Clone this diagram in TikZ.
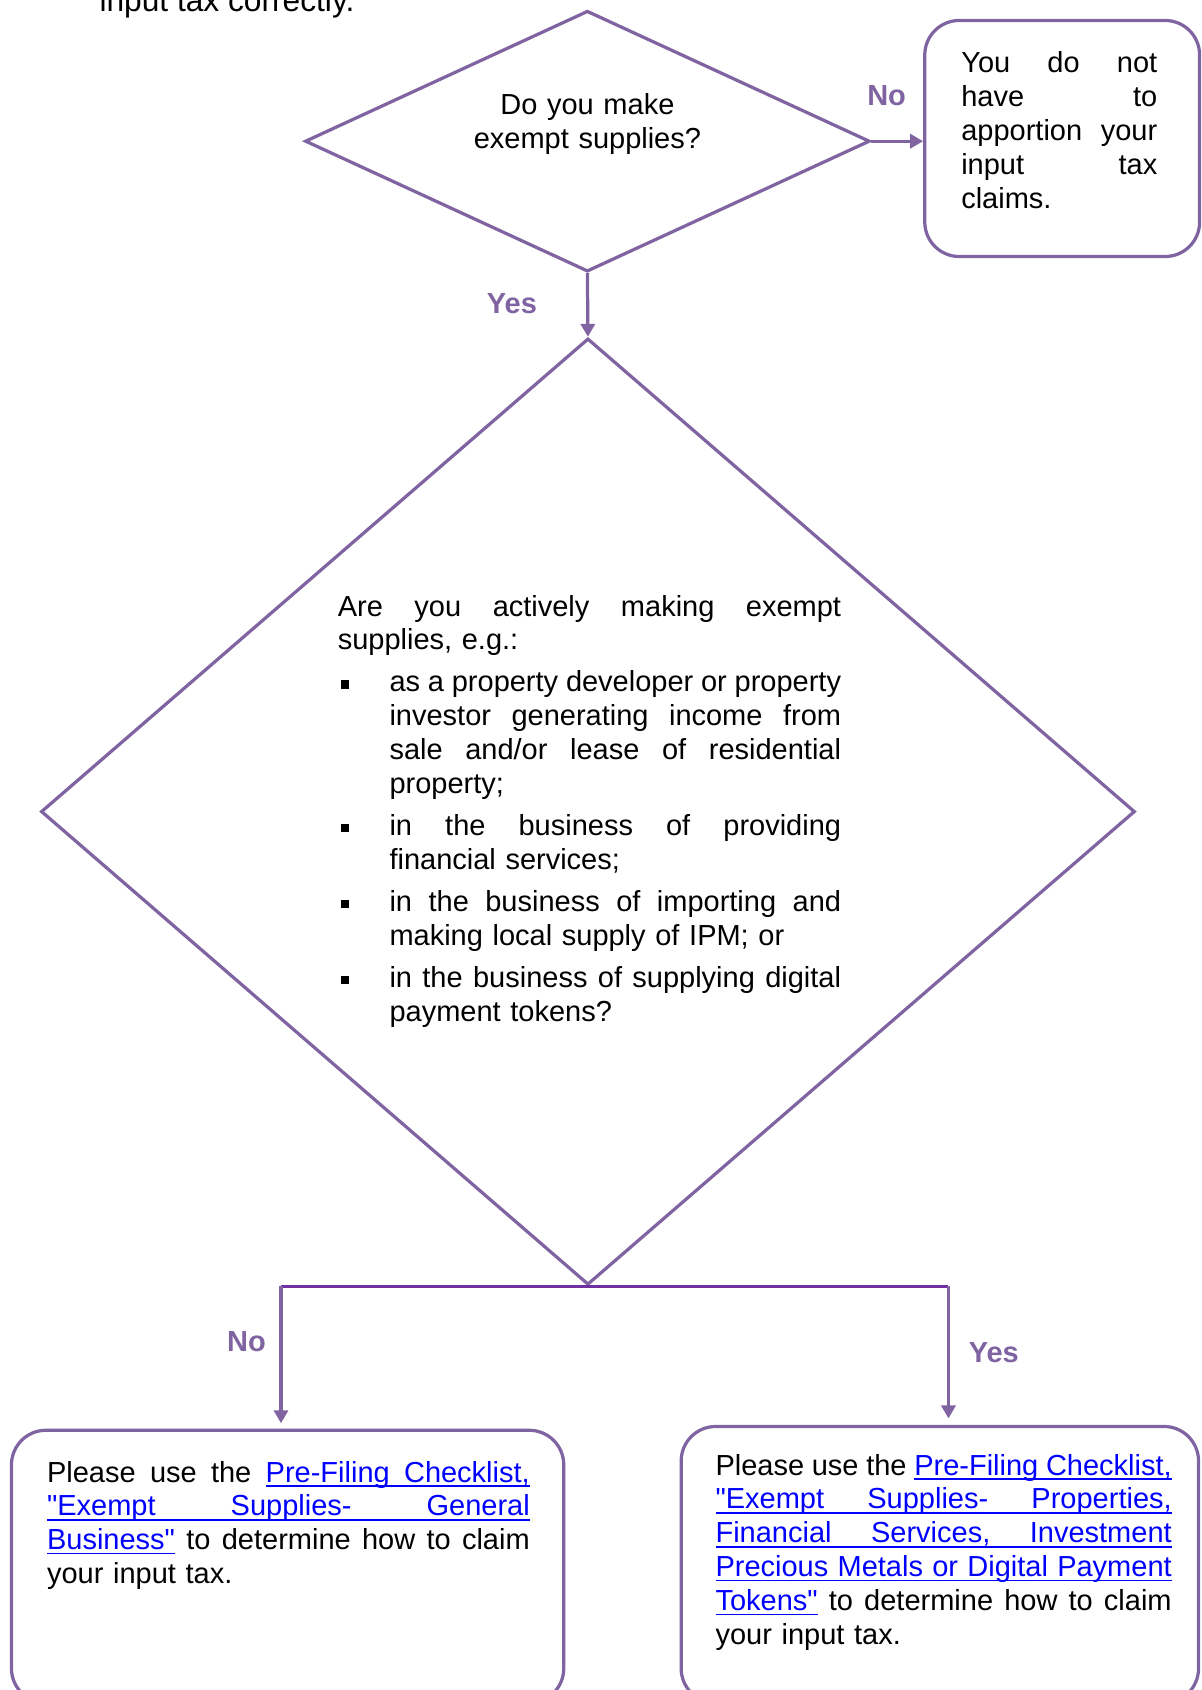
\documentclass[tikz,border=0pt]{standalone}
\usepackage{fontspec}
\setmainfont{Liberation Sans}[Ligatures=TeXOff]
\usetikzlibrary{shapes.geometric,arrows.meta}

\definecolor{flowpurple}{HTML}{8064A2}
\definecolor{joinpurple}{HTML}{7030A0}
\definecolor{linkblue}{HTML}{0000FF}

% justified lines, indented lines and bullet lines
\newcommand{\jl}[1]{\makebox[\linewidth][s]{\spaceskip=0pt\xspaceskip=0pt #1}}
\newcommand{\ijl}[1]{\hspace*{24pt}\makebox[\dimexpr\linewidth-24pt\relax][s]{\spaceskip=0pt\xspaceskip=0pt #1}}
\newcommand{\bjl}[1]{\makebox[24pt][l]{\hspace{1.5pt}\raisebox{1.6pt}{\rule{3.8pt}{3.8pt}}}\makebox[\dimexpr\linewidth-24pt\relax][s]{\spaceskip=0pt\xspaceskip=0pt #1}}
\newcommand{\il}[1]{\hspace*{24pt}#1}
% link words and underlined spaces
\newcommand{\lw}[1]{{\color{linkblue}\setbox0\hbox{#1}\rlap{\rule[-2.2pt]{\wd0}{0.75pt}}\box0}}
\newcommand{\ls}{{\color{linkblue}\leaders\hrule height -1.45pt depth 2.2pt\hskip\fontdimen2\font plus\fontdimen3\font minus\fontdimen4\font}}

\tikzset{
  flow/.style={draw=flowpurple, line width=1.5pt},
  decision/.style={flow, shape=diamond, inner sep=0pt},
  outcome/.style={flow, rounded corners=16pt, inner sep=0pt},
  body/.style={font=\fontsize{13.45}{15.7}\selectfont\frenchspacing, inner sep=0pt},
  answer/.style={font=\bfseries\fontsize{13.45}{15.7}\selectfont, text=flowpurple, inner sep=0pt},
  flowarrow/.style={flowpurple, line width=1.5pt, -{Triangle[length=6pt,width=6.5pt]}},
}

\begin{document}
\begin{tikzpicture}[x=0.5pt, y=-0.5pt]
  \useasboundingbox (0,0) rectangle (1115,1568);

  \node[body, anchor=base west, font=\fontsize{14.7}{17}\selectfont] (intro) at (92,10.7) {input tax correctly.};

  % first question
  \node[decision, minimum width=262pt, minimum height=121pt] (q1) at (545,131) {};
  \node[body, text width=120pt, align=center, anchor=base] (q1t) at (545,106) {Do you make\\exempt supplies?};

  \node[outcome, minimum width=127.5pt, minimum height=109.5pt] (skip) at (985.5,128.5) {};
  \node[body, text width=90.9pt, align=left, anchor=base west] (skipt) at (891.5,67.4) {
    \jl{You do not}\\
    \jl{have to}\\
    \jl{apportion your}\\
    \jl{input tax}\\
    claims.};

  \node[answer] (nolbl) at (822.6,89) {No};
  \draw[flowarrow] (q1.east) -- (q1.east -| skip.west);

  % second question
  \node[decision, minimum width=507.5pt, minimum height=439pt] (q2) at (545.5,753) {};
  \node[body, text width=233.5pt, align=left, anchor=base west] (q2t) at (313,571.6) {
    \jl{Are you actively making exempt}\\
    supplies, e.g.:\\[3.8pt]
    \bjl{as a property developer or property}\\
    \ijl{investor generating income from}\\
    \ijl{sale and/or lease of residential}\\
    \il{property;}\\[3.8pt]
    \bjl{in the business of providing}\\
    \il{financial services;}\\[3.8pt]
    \bjl{in the business of importing and}\\
    \il{making local supply of IPM; or}\\[3.8pt]
    \bjl{in the business of supplying digital}\\
    \il{payment tokens?}};

  \node[answer] (yeslbl) at (475,282) {Yes};
  \draw[flowarrow] (q1.south) -- (q2.north);

  % split below the second question
  \coordinate (jl) at (260.7,1193.5);
  \coordinate (jr) at (880,1193.5);
  \draw[joinpurple, line width=1.5pt] (jl) -- (jr);

  \node[answer] (no2) at (228.7,1245) {No};
  \node[answer] (yes2) at (922,1255) {Yes};

  % outcomes
  \node[outcome, minimum width=256.2pt, minimum height=126.5pt] (gen) at (266.85,1453.5) {};
  \draw[flowarrow, shorten >=2.5pt] (jl) -- (jl |- gen.north);
  \node[body, text width=223.9pt, align=left, anchor=base west] (gent) at (43.3,1375) {
    \jl{Please use the \lw{Pre-Filing}\ls\lw{Checklist,}}\\
    \jl{\lw{"Exempt}\ls\lw{Supplies-}\ls\lw{General}}\\
    \jl{\lw{Business"} to determine how to claim}\\
    your input tax.};

  \node[outcome, minimum width=240pt, minimum height=128.25pt] (prop) at (872,1451.75) {};
  \draw[flowarrow, shorten >=3pt] (jr) -- (jr |- prop.north);
  \node[body, text width=211.6pt, align=left, anchor=base west] (propt) at (663.5,1368.6) {
    \jl{Please use the \lw{Pre-Filing}\ls\lw{Checklist,}}\\
    \jl{\lw{"Exempt}\ls\lw{Supplies-}\ls\lw{Properties,}}\\
    \jl{\lw{Financial}\ls\lw{Services,}\ls\lw{Investment}}\\
    \jl{\lw{Precious}\ls\lw{Metals}\ls\lw{or}\ls\lw{Digital}\ls\lw{Payment}}\\
    \jl{\lw{Tokens"} to determine how to claim}\\
    your input tax.};
\end{tikzpicture}
\end{document}
